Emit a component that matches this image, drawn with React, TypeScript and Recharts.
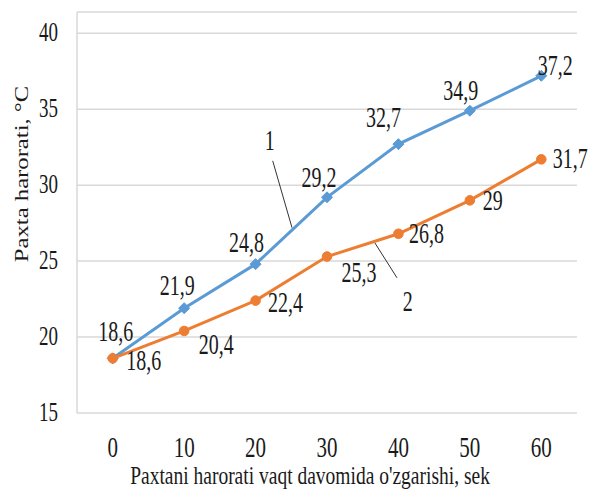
import React from "react";
import {
  LineChart,
  Line,
  XAxis,
  YAxis,
  CartesianGrid,
  LabelList,
  ReferenceLine,
  ReferenceDot,
} from "recharts";

// Vaqt (sek) and cotton temperature readings for the two curves
const times = [0, 10, 20, 30, 40, 50, 60];
const curve1 = [18.6, 21.9, 24.8, 29.2, 32.7, 34.9, 37.2];
const curve2 = [18.6, 20.4, 22.4, 25.3, 26.8, 29, 31.7];
const yTicks = [15, 20, 25, 30, 35, 40];

// Where each value label sits relative to its point (px)
const shift1 = [[3, -27], [-7, -23], [-9, -22], [-8, -20], [-15, -27], [-9, -21], [14, -11]];
const shift2 = [[31, 2], [32, 13], [30, 1], [32, 15], [28, -1], [23, 0], [29, -1]];

const data = times.map((t, i) => ({ t, c1: curve1[i], c2: curve2[i] }));

const FONT = '"Liberation Serif", "Times New Roman", serif';
const INK = "#1a1a1a";
const BLUE = "#5B9BD5";
const ORANGE = "#ED7D31";

const fmt = (v: number) => String(v).replace(".", ",");

// Text that is taller than the font's natural proportions
function TallText({ x, y, children, size = 20, stretch = 1.45, anchor = "middle" }: any) {
  return (
    <text
      transform={`translate(${x} ${y}) scale(1 ${stretch})`}
      textAnchor={anchor}
      fontFamily={FONT}
      fontSize={size}
      fill={INK}
    >
      {children}
    </text>
  );
}

function Diamond({ cx, cy }: any) {
  const r = 5.5;
  return (
    <polygon
      points={`${cx},${cy - r} ${cx + r},${cy} ${cx},${cy + r} ${cx - r},${cy}`}
      fill={BLUE}
      stroke={BLUE}
    />
  );
}

function Circle({ cx, cy }: any) {
  return <circle cx={cx} cy={cy} r={4.8} fill={ORANGE} stroke={ORANGE} />;
}

const valueLabel = (shifts: number[][]) => (p: any) => {
  const [dx, dy] = shifts[p.index] || [0, 0];
  return (
    <TallText key={p.index} x={p.x + dx} y={p.y + dy + 10} size={20} stretch={1.5}>
      {fmt(p.value)}
    </TallText>
  );
};

export default function App() {
  return (
    <div style={{ position: "absolute", left: 0, top: 0, width: 591, height: 491, background: "#fff" }}>
      <LineChart
        width={591}
        height={491}
        data={data}
        margin={{ top: 12, right: 14, bottom: 18, left: 17 }}
      >
        <CartesianGrid vertical={false} stroke="#d9d9d9" strokeWidth={1.5} />
        <XAxis
          dataKey="t"
          type="number"
          domain={[-5, 65]}
          ticks={times}
          height={60}
          axisLine={false}
          tickLine={false}
          tickSize={0}
          tickMargin={0}
          tick={(p: any) => (
            <TallText x={p.x} y={p.y + 44} size={21} stretch={1.45}>
              {p.payload.value}
            </TallText>
          )}
          label={(p: any) => (
            <TallText
              x={p.viewBox.x + p.viewBox.width / 2 - 17}
              y={484}
              size={19.5}
              stretch={1.3}
            >
              Paxtani harorati vaqt davomida o'zgarishi, sek
            </TallText>
          )}
        />
        <YAxis
          type="number"
          domain={[15, 41.4]}
          ticks={yTicks}
          width={60}
          axisLine={{ stroke: "#d9d9d9", strokeWidth: 1.5 }}
          tickLine={false}
          tickSize={0}
          tickMargin={0}
          tick={(p: any) => (
            <TallText x={p.x - 19} y={p.y + 8} size={19} stretch={1.47} anchor="end">
              {p.payload.value}
            </TallText>
          )}
          label={() => (
            <text
              transform="translate(28 174) rotate(-90) scale(1.3 1)"
              textAnchor="middle"
              fontFamily={FONT}
              fontSize={19}
              fill={INK}
            >
              Paxta harorati, °C
            </text>
          )}
        />
        <Line
          dataKey="c1"
          stroke={BLUE}
          strokeWidth={3}
          dot={(p: any) => <Diamond key={`d1-${p.index}`} cx={p.cx} cy={p.cy} />}
          activeDot={false}
          isAnimationActive={false}
        >
          <LabelList dataKey="c1" content={valueLabel(shift1)} />
        </Line>
        <Line
          dataKey="c2"
          stroke={ORANGE}
          strokeWidth={3}
          dot={(p: any) => <Circle key={`d2-${p.index}`} cx={p.cx} cy={p.cy} />}
          activeDot={false}
          isAnimationActive={false}
        >
          <LabelList dataKey="c2" content={valueLabel(shift2)} />
        </Line>
        {/* curve numbers with their leader lines */}
        <ReferenceLine
          segment={[{ x: 22.4, y: 31.6 }, { x: 25.1, y: 27.2 }]}
          stroke="#333"
          strokeWidth={1}
          ifOverflow="visible"
        />
        <ReferenceLine
          segment={[{ x: 36.7, y: 26.2 }, { x: 39.8, y: 23.9 }]}
          stroke="#333"
          strokeWidth={1}
          ifOverflow="visible"
        />
        <ReferenceDot
          x={22}
          y={33}
          r={0}
          ifOverflow="visible"
          shape={(p: any) => (
            <TallText x={p.cx} y={p.cy + 10} size={20} stretch={1.5}>
              1
            </TallText>
          )}
        />
        <ReferenceDot
          x={41.3}
          y={22.4}
          r={0}
          ifOverflow="visible"
          shape={(p: any) => (
            <TallText x={p.cx} y={p.cy + 10} size={20} stretch={1.5}>
              2
            </TallText>
          )}
        />
      </LineChart>
    </div>
  );
}
